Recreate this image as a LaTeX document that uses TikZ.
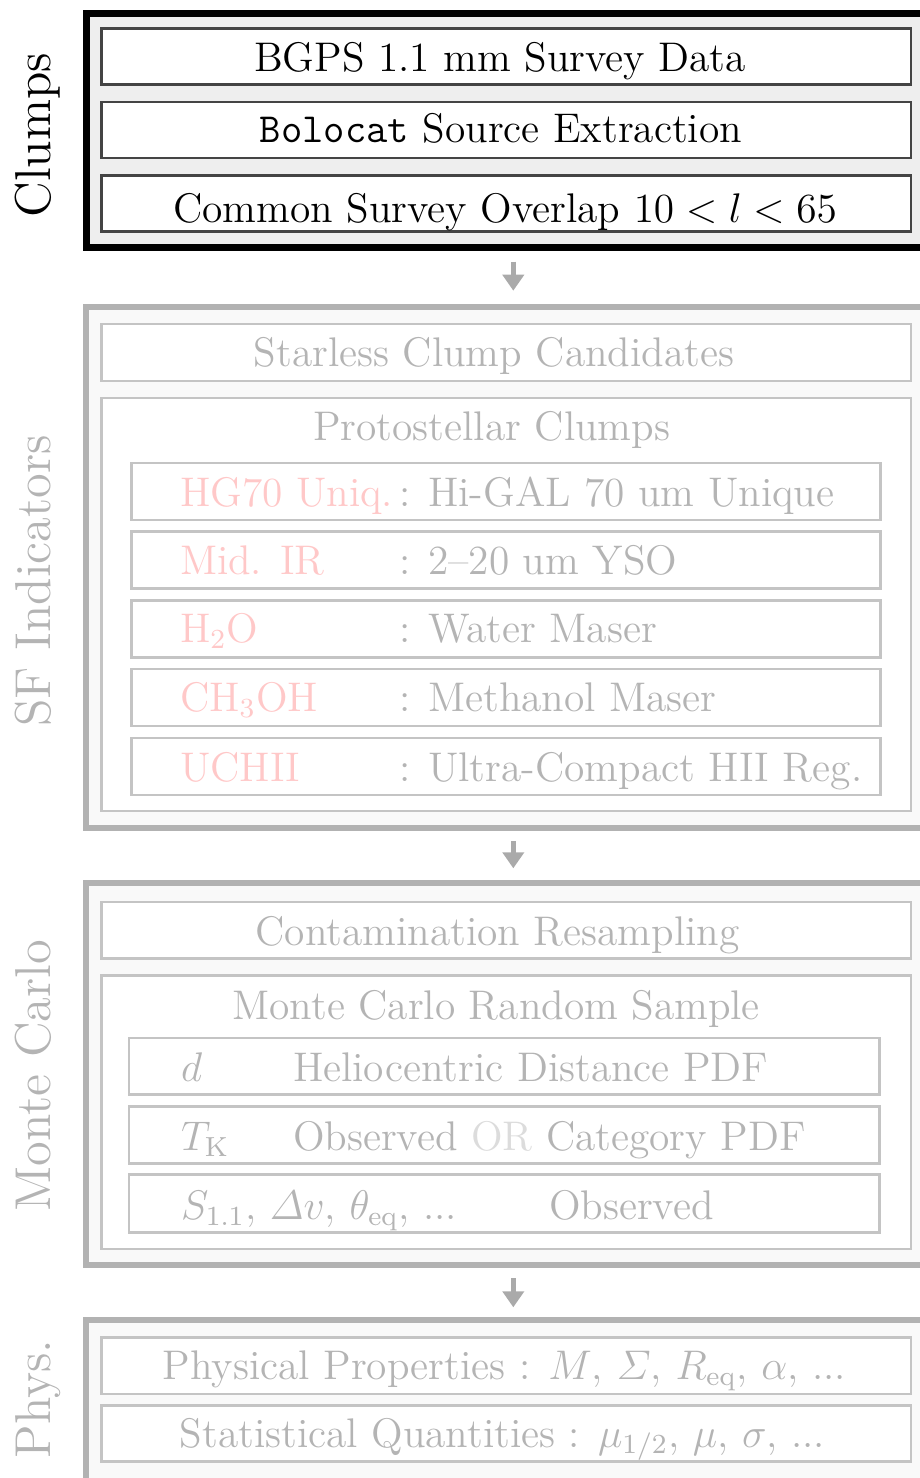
\documentclass[tikz,border=0pt]{standalone}
\usepackage{amsmath}
\usetikzlibrary{fit,arrows.meta}
\definecolor{gtext}{RGB}{180,180,180}
\definecolor{ptext}{RGB}{255,200,200}
\definecolor{ortext}{RGB}{220,220,220}
\definecolor{gborder}{RGB}{178,178,178}
\definecolor{gin}{RGB}{196,196,196}
\definecolor{gfill}{RGB}{249,249,249}
\definecolor{cfill}{RGB}{238,238,238}
\definecolor{cin}{RGB}{68,68,68}
\definecolor{arrowc}{RGB}{170,170,170}
\tikzset{
  outerbox/.style={draw=gborder, inner sep=0pt, outer sep=0pt, line width=6pt, fill=gfill},
  clumpsbox/.style={outerbox, draw=black, line width=6.7pt, fill=cfill},
  innerbox/.style={draw=gin, fill=white, line width=2.6pt, inner sep=0pt, outer sep=0pt},
  cinbox/.style={innerbox, draw=cin},
  txt/.style={scale=3.45, inner sep=0pt, outer sep=0pt, font=\fontsize{12}{14}\selectfont, anchor=base},
  ltxt/.style={txt, anchor=base west},
  sidetxt/.style={scale=4.2, rotate=90, inner sep=0pt, font=\fontsize{12}{14}\selectfont, anchor=base},
  flowarrow/.style={draw=arrowc, line width=5pt, -{Triangle[width=21pt,length=16pt]}},
}
\begin{document}
\begin{tikzpicture}[x=1pt,y=-1pt]
\path[use as bounding box] (0,0) rectangle (920,1478);
\clip (0,0) rectangle (920,1478);
% ---------- Clumps
\node[clumpsbox, fit={(86.7,13.3) (935,247.2)}] (B1) {};
\node[cinbox, fit={(101.3,28.7) (910.8,84.7)}] (c1) {};
\node[cinbox, fit={(101.3,102) (910.8,158)}] (c2) {};
\node[cinbox, fit={(101.3,175.3) (910.8,231.2)}] (c3) {};
\node[txt] (c1t) at (500,71.7) {BGPS 1.1 mm Survey Data};
\node[txt] (c2t) at (501,142.5) {\texttt{Bolocat} Source Extraction};
\node[txt] (c3t) at (505,222) {Common Survey Overlap $10 < l < 65$};
\node[sidetxt] (L1) at (50.7,135) {Clumps};
% ---------- SF Indicators
\node[outerbox, fit={(86.3,306.7) (935,827.5)}] (B2) {};
\node[innerbox, fit={(101.3,324) (910.8,381)}] (s1) {};
\node[innerbox, fit={(101.3,398) (910.8,811)}] (s2) {};
\node[innerbox, fit={(131.3,463) (880.5,520)}] (r1) {};
\node[innerbox, fit={(131.3,531.7) (880.5,588.7)}] (r2) {};
\node[innerbox, fit={(131.3,600.4) (880.5,657.4)}] (r3) {};
\node[innerbox, fit={(131.3,669.1) (880.5,726.1)}] (r4) {};
\node[innerbox, fit={(131.3,737.8) (880.5,794.8)}] (r5) {};
\node[txt, text=gtext] (s1t) at (494,366.5) {Starless Clump Candidates};
\node[txt, text=gtext] (s2t) at (491.7,440.5) {Protostellar Clumps};
\node[ltxt, text=ptext] (r1a) at (180,506) {HG70 Uniq.};
\node[ltxt, text=gtext] (r1b) at (399,506) {: Hi-GAL 70 um Unique};
\node[ltxt, text=ptext] (r2a) at (180,574) {Mid. IR};
\node[ltxt, text=gtext] (r2b) at (399,574) {: 2--20 um YSO};
\node[ltxt, text=ptext] (r3a) at (180,642.5) {H$_2$O};
\node[ltxt, text=gtext] (r3b) at (399,642.5) {: Water Maser};
\node[ltxt, text=ptext] (r4a) at (180,711.5) {CH$_3$OH};
\node[ltxt, text=gtext] (r4b) at (399,711.5) {: Methanol Maser};
\node[ltxt, text=ptext] (r5a) at (180,781) {UCHII};
\node[ltxt, text=gtext] (r5b) at (399,781) {: Ultra-Compact HII Reg.};
\node[sidetxt, text=gtext] (L2) at (50.7,580.8) {SF Indicators};
% ---------- Monte Carlo
\node[outerbox, fit={(86.3,883.3) (935,1265)}] (B3) {};
\node[innerbox, fit={(101.3,902) (910.8,958.7)}] (m1) {};
\node[innerbox, fit={(101.3,975.5) (910.8,1248.8)}] (m2) {};
\node[innerbox, fit={(128.8,1037.8) (879.5,1094.7)}] (q1) {};
\node[innerbox, fit={(128.8,1106.2) (879.5,1163.3)}] (q2) {};
\node[innerbox, fit={(128.8,1174.7) (879.5,1232.2)}] (q3) {};
\node[txt, text=gtext] (m1t) at (497.5,945.5) {Contamination Resampling};
\node[txt, text=gtext] (m2t) at (496.2,1019) {Monte Carlo Random Sample};
\node[ltxt, text=gtext] (q1a) at (181,1081.5) {$d$};
\node[ltxt, text=gtext] (q1b) at (293,1081.5) {Heliocentric Distance PDF};
\node[ltxt, text=gtext] (q2a) at (181,1150.5) {$T_{\mathrm{K}}$};
\node[ltxt, text=gtext] (q2b) at (293,1150.5) {Observed \textcolor{ortext}{OR} Category PDF};
\node[ltxt, text=gtext] (q3a) at (181,1219) {$S_{1.1}$, $\varDelta v$, $\theta_{\mathrm{eq}}$, ...};
\node[ltxt, text=gtext] (q3b) at (549,1219) {Observed};
\node[sidetxt, text=gtext] (L3) at (50.7,1075.5) {Monte Carlo};
% ---------- Phys.
\node[outerbox, fit={(86.3,1320.3) (935,1500)}] (B4) {};
\node[innerbox, fit={(101.3,1337.2) (910.8,1393.8)}] (p1) {};
\node[innerbox, fit={(101.3,1405.3) (910.8,1461.3)}] (p2) {};
\node[txt, text=gtext] (p1t) at (504.5,1379) {Physical Properties : $M$, $\varSigma$, $R_{\mathrm{eq}}$, $\alpha$, ...};
\node[txt, text=gtext] (p2t) at (502.5,1447.5) {Statistical Quantities : $\mu_{1/2}$, $\mu$, $\sigma$, ...};
\node[sidetxt, text=gtext] (L4) at (50.7,1398.8) {Phys.};
% ---------- arrows
\coordinate (ax) at (513.3,0);
\draw[flowarrow, shorten <=14.5pt, shorten >=16pt] (B1.south -| ax) -- (B2.north -| ax);
\draw[flowarrow, shorten <=13.5pt, shorten >=15pt] (B2.south -| ax) -- (B3.north -| ax);
\draw[flowarrow, shorten <=13.3pt, shorten >=13pt] (B3.south -| ax) -- (B4.north -| ax);
\end{tikzpicture}
\end{document}
